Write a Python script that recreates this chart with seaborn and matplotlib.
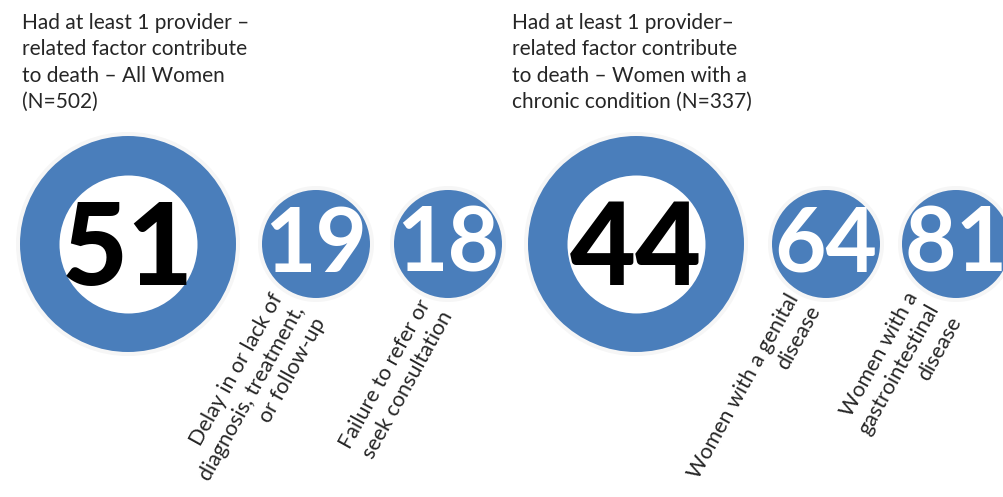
import matplotlib
matplotlib.use("Agg")
import matplotlib.pyplot as plt
import seaborn as sns
import pandas as pd

# --- data ---------------------------------------------------------------
panel_titles = [
    "Had at least 1 provider –\nrelated factor contribute\nto death – All Women\n(N=502)",
    "Had at least 1 provider–\nrelated factor contribute\nto death – Women with a\nchronic condition (N=337)",
]
headline_values = [51, 44]
factor_values = [19, 18, 64, 81]
factor_labels = [
    "Delay in or lack of\ndiagnosis, treatment,\nor follow-up",
    "Failure to refer or\nseek consultation",
    "Women with a genital\ndisease",
    "Women with a\ngastrointestinal\ndisease",
]

# --- layout (canvas units = pixels, y pointing down) ----------------------
W, H, DPI = 1004, 497, 100
title_x = [22, 512]
title_y = 13
head_x = [128, 636]
head_y = 244
head_r_outer, head_r_inner = 108, 69
fac_x = [316, 448, 826, 956]
fac_y = 244
fac_r = 54
label_offsets = [(-47, 46), (-31, 52), (-41, 46), (-52, 45)]
label_rotation = 61

BLUE = "#4a7ebb"
HALO = "#f6f6f6"
TEXT = "#262626"

sns.set_theme(style="white")
plt.rcParams["font.family"] = ["Lato", "DejaVu Sans"]

fig = plt.figure(figsize=(W / DPI, H / DPI), dpi=DPI)
ax = fig.add_axes([0, 0, 1, 1])


def area(r_px):
    """Scatter marker area (pt^2) for a disc of radius r_px canvas pixels."""
    return (2 * r_px * 72 / DPI) ** 2


discs = pd.DataFrame({
    "x": head_x + fac_x,
    "y": [head_y] * len(head_x) + [fac_y] * len(fac_x),
    "r": [head_r_outer] * len(head_x) + [fac_r] * len(fac_x),
})

# soft halo, then the blue discs, then the white holes of the headline rings
sns.scatterplot(data=discs, x="x", y="y", s=[area(r + 4) for r in discs["r"]],
                color=HALO, linewidth=0, ax=ax, legend=False, zorder=1)
sns.scatterplot(data=discs, x="x", y="y", s=[area(r) for r in discs["r"]],
                color=BLUE, linewidth=0, ax=ax, legend=False, zorder=2)
holes = pd.DataFrame({"x": head_x, "y": [head_y] * len(head_x)})
sns.scatterplot(data=holes, x="x", y="y", s=area(head_r_inner),
                color="white", linewidth=0, ax=ax, legend=False, zorder=3)
ax.set_xlim(0, W)
ax.set_ylim(H, 0)
ax.set_aspect("equal")
ax.axis("off")

# panel titles
for tx, t in zip(title_x, panel_titles):
    ax.text(tx, title_y, t, ha="left", va="top", fontsize=15, color=TEXT,
            linespacing=1.4, zorder=5)

# headline numbers
for hx, v in zip(head_x, headline_values):
    ax.text(hx, head_y + 41, str(v), ha="center", va="baseline", fontsize=82,
            fontweight="black", color="black", zorder=5)

# factor numbers and rotated labels
for fx, v, lab, (dx, dy) in zip(fac_x, factor_values, factor_labels, label_offsets):
    ax.text(fx, fac_y + 28, str(v), ha="center", va="baseline", fontsize=64,
            fontweight="bold", color="white", zorder=5, clip_on=True)
    ax.text(fx + dx, fac_y + dy, lab, ha="right", va="top",
            rotation=label_rotation, rotation_mode="anchor",
            multialignment="right", fontsize=15.5, color=TEXT,
            linespacing=1.3, zorder=5)

fig.savefig("out.png", dpi=DPI, facecolor="white")
